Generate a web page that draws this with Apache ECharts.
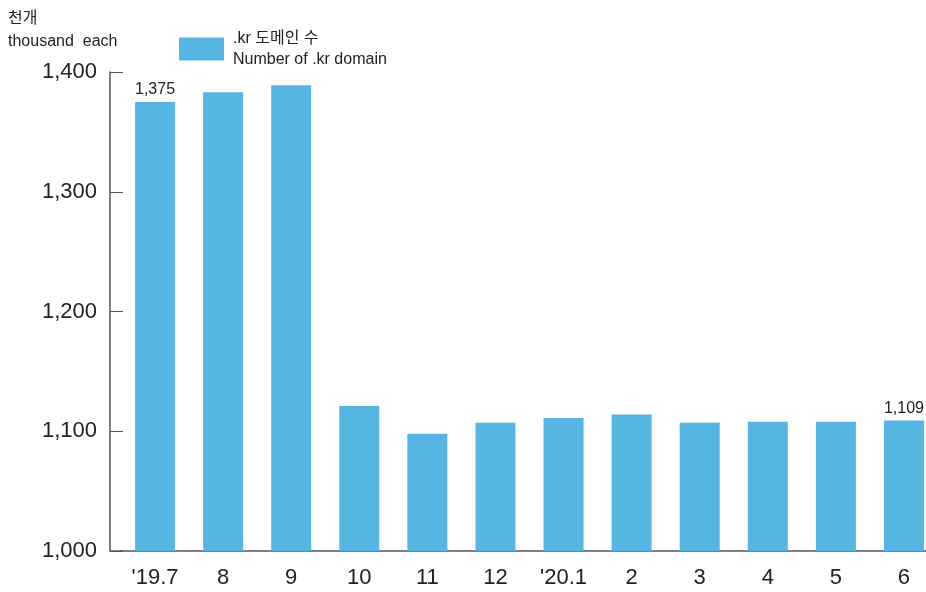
<!DOCTYPE html>
<html lang="ko">
<head>
    <meta charset="UTF-8">
    <title>.kr 도메인 수</title>
    <script src="https://cdn.jsdelivr.net/npm/echarts@6/dist/echarts.min.js"></script>
    <style>
        * { margin: 0; padding: 0; }
        body { background: #fff; }
        #chart { width: 926px; height: 592px; }
    </style>
</head>
<body>
    <div id="chart"></div>
    <script>
        // 월별 .kr 도메인 수 (천개)
        const months = ["'19.7", '8', '9', '10', '11', '12', "'20.1", '2', '3', '4', '5', '6'];
        const domains = [1375, 1383, 1389, 1121, 1098, 1107, 1111, 1114, 1107, 1108, 1108, 1109];
        const labelIdx = [0, 11];   // 값 표시하는 막대
        const yTicks = { min: 1000, max: 1400, step: 100 };

        const FONT = '"Liberation Sans", Arial, "Noto Sans CJK KR", sans-serif';
        const TXT = '#222';

        const fmt = v => v.toLocaleString('en-US');

        const barData = domains.map((v, i) => ({
            value: v,
            label: { show: labelIdx.includes(i) }
        }));

        const chart = echarts.init(document.getElementById('chart'));
        chart.setOption({
            animation: false,
            textStyle: { fontFamily: FONT, color: TXT },
            title: {
                text: '천개\nthousand  each',
                left: 3, top: 2,
                textStyle: { fontFamily: FONT, fontSize: 16, fontWeight: 'normal', color: TXT, lineHeight: 23 }
            },
            legend: {
                left: 174, top: 23,
                itemWidth: 45, itemHeight: 23,
                icon: 'rect',
                formatter: () => '.kr 도메인 수\nNumber of .kr domain',
                textStyle: { fontFamily: FONT, fontSize: 16, color: TXT, lineHeight: 21, padding: [0, 0, 0, 4] },
                data: ['domain']
            },
            grid: { left: 121, width: 817, top: 72, bottom: 41, outerBoundsMode: 'none' },
            xAxis: {
                type: 'category',
                data: months,
                axisLine: { lineStyle: { color: '#555', width: 1.5 } },
                axisTick: { show: false },
                axisLabel: { fontSize: 22, color: TXT, margin: 16, fontFamily: FONT }
            },
            yAxis: {
                type: 'value',
                min: yTicks.min, max: yTicks.max, interval: yTicks.step,
                offset: 11,
                axisLine: { show: true, lineStyle: { color: '#555', width: 1.5 } },
                axisTick: { show: true, inside: true, length: 13, lineStyle: { color: '#555' } },
                splitLine: { show: false },
                axisLabel: { fontSize: 22, color: TXT, margin: 13, fontFamily: FONT, formatter: fmt }
            },
            graphic: [{
                // x축선을 y축까지 이어줌
                type: 'line',
                shape: { x1: 110, y1: 551, x2: 122, y2: 551 },
                style: { stroke: '#555', lineWidth: 1.5 }
            }],
            series: [{
                name: 'domain',
                type: 'bar',
                data: barData,
                barWidth: 40,
                itemStyle: { color: '#55b5e3' },
                label: {
                    position: 'top', distance: 4,
                    fontSize: 16, color: TXT, fontFamily: FONT,
                    formatter: p => fmt(p.value)
                }
            }]
        });
    </script>
</body>
</html>
